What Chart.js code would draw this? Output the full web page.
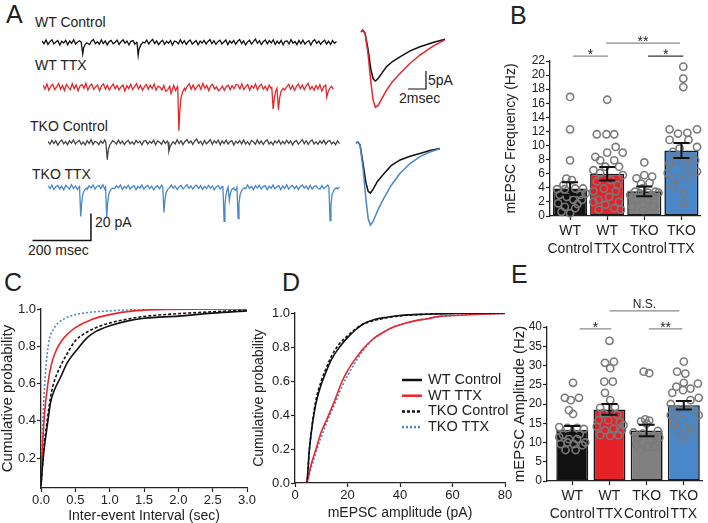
<!DOCTYPE html>
<html>
<head>
<meta charset="utf-8">
<script src="https://cdn.jsdelivr.net/npm/chart.js@4.4.1/dist/chart.umd.min.js"></script>
<style>
  body { margin: 0; background: #fff; width: 708px; height: 523px; position: relative; overflow: hidden;
         font-family: 'Liberation Sans', Arial, sans-serif; color: #222; }
  canvas { position: absolute; }
  .t { position: absolute; white-space: nowrap; line-height: 1; }
  .p { font-size: 25px; }
  .l { font-size: 14px; }
</style>
</head>
<body>
<div class="t p" style="left:6px;top:2px">A</div>
<div class="t p" style="left:510px;top:3px">B</div>
<div class="t p" style="left:4px;top:270px">C</div>
<div class="t p" style="left:282px;top:270px">D</div>
<div class="t p" style="left:511px;top:262px">E</div>

<div class="t l" style="left:35px;top:15px">WT Control</div>
<div class="t l" style="left:35px;top:58px">WT TTX</div>
<div class="t l" style="left:30px;top:119px">TKO Control</div>
<div class="t l" style="left:32px;top:167px">TKO TTX</div>
<div class="t l" style="left:95px;top:215px">20 pA</div>
<div class="t l" style="left:28px;top:243px">200 msec</div>
<div class="t l" style="left:428px;top:73px">5pA</div>
<div class="t l" style="left:399px;top:91px">2msec</div>

<script>
// ---------- A: example traces (pA), noise sampled every ~6.7 ms, events as [ms, pA] ----------
const traceStep = 6.7;
const wtCtrlNoise = [1.2,-0.9,1.8,-1.4,0.6,2.0,-1.1,0.3,1.5,-1.8,0.9,-0.4,1.7,-1.6,1.1,-0.7,2.1,-1.2,0.4,1.3,
  -1.9,0.8,1.6,-0.6,-1.5,1.0,2.2,-0.9,0.5,-1.3,1.9,-0.8,1.2,-1.7,0.7,1.5,-1.0,0.2,1.8,-1.4,
  0.6,2.0,-0.5,1.1,-1.8,0.9,1.4,-1.2,0.3,1.6,-1.5,1.0,-0.3,1.9,-1.1,0.8,2.3,-0.7,1.2,-1.6,
  0.4,1.7,-1.3,0.9,-0.6,1.5,-1.9,1.1,0.5,-1.0,2.0,-0.8,1.3,-1.5,0.7,1.8,-1.2,0.2,1.4,-1.7,
  1.0,-0.4,1.6,-1.1,0.8,2.1,-0.9,1.3,-1.4,0.6,1.7,-1.0,0.4,1.9,-1.6,1.2,-0.5,1.5,-1.3,0.9,
  2.2,-0.7,1.1,-1.8,0.5,1.6,-1.2,0.8,2.5,-0.6,1.3,-1.5,0.7,1.9,-1.0,1.4,-0.3,2.0,-1.4,1.0,
  -0.8,1.6,-1.7,0.9,1.2,-1.1,2.1,-0.5,0.7,-1.6,1.5,-0.9,1.8,-1.2,0.4,1.3,-1.8,1.0,2.0,-0.7,
  1.1,-1.4,0.6,1.7,-1.1,0.9,-1.5,1.4,-0.6,0.8];
const wtCtrlEvents = [
  [[133,0.2],[138,-8.5],[141,-4],[146,-1.5],[152,-0.3]],
  [[322,0.4],[326,-9.5],[329,-5],[335,-1.8],[342,0.2]]];
const wtTtxNoise = [1.8,-1.2,2.6,-2.0,0.9,2.4,-1.6,0.5,3.0,-1.3,1.5,-2.2,2.3,0.3,-1.6,2.8,-0.8,1.9,-2.4,1.2,
  2.2,-0.6,3.1,-1.8,1.0,2.6,-1.4,0.6,2.0,-2.3,1.1,2.7,-1.2,1.7,-1.9,0.7,2.5,-1.0,1.5,-1.7,
  0.4,1.9,-2.6,1.3,-0.9,2.4,-1.5,0.8,2.9,-1.1,1.6,-2.0,0.5,2.2,-1.3,1.8,-0.7,2.6,-1.9,1.0,
  0.2,-1.8,1.4,-2.9,-1.6,0.9,-0.5,1.7,-2.2,0.8,2.5,-0.8,1.6,-2.1,1.1,2.8,-1.3,1.9,-1.7,0.6,
  2.1,-1.4,3.0,-0.6,1.5,-2.3,1.2,2.4,-1.1,0.4,-2.4,-1.2,1.0,-2.0,0.8,1.7,-1.6,1.4,-0.9,2.3,
  1.9,-1.0,2.7,-1.5,0.7,2.2,-2.0,1.3,-0.4,2.6,-1.7,1.1,2.4,-1.2,0.9,-2.1,1.8,-0.7,2.5,-1.5,
  1.0,2.9,-1.1,1.6,-1.8,0.5,2.3,-1.3,1.4,-2.2,0.8,2.6,-0.9,1.9,-1.6,1.2,3.1,-1.4,0.7,-2.0,
  1.5,-1.1,2.2,-2.5,0.6,1.8,-3.0,-2.2,0.9,-1.4];
const wtTtxEvents = [
  [[436,0.4],[440,-4.5],[445,-1.5]],
  [[463,0.2],[467,-32],[470,-18],[474,-8],[480,-3],[487,-0.5]],
  [[786,0.5],[791,-16],[795,-8],[799,-3],[804,-0.5],[809,-16.5],[813,-8],[818,-3],[825,-0.5]],
  [[972,0.2],[975,-7],[980,-3],[986,-0.5]]];
const tkoCtrlNoise = [0.9,-1.3,1.6,-0.8,1.2,-1.9,0.5,1.8,-1.0,0.7,-1.6,1.3,-0.5,2.0,-1.2,0.6,1.5,-1.4,0.3,-1.8,
  1.4,-0.7,2.1,-1.5,0.9,0.2,-1.6,1.1,-0.6,1.9,-1.1,0.8,-1.7,1.3,0.4,-1.2,1.7,-0.8,1.0,-1.5,
  0.6,1.6,-1.0,0.5,-1.4,1.5,-0.3,0.9,-1.7,1.2,1.4,-1.1,0.8,-0.5,1.8,-1.6,1.1,0.3,-1.3,1.5,
  -0.6,1.1,-1.9,0.9,0.5,-1.1,2.0,-0.8,1.3,-1.6,0.8,2.2,-0.5,1.2,-1.4,1.1,2.5,-0.6,0.9,-1.7,
  1.6,-1.0,0.6,2.1,-1.3,1.4,-0.5,1.8,-1.6,1.1,-0.8,1.7,-1.1,0.6,1.3,-1.9,0.9,-0.5,1.4,-1.0,
  1.9,-1.2,0.7,-1.6,1.5,0.4,-1.3,1.8,-0.9,1.1,-1.5,0.8,2.0,-1.1,0.5,-1.7,1.2,-0.4,1.6,-1.3,
  0.9,-1.0,1.7,-0.6,1.1,-1.8,0.7,1.4,-1.2,0.5,2.1,-0.9,1.3,-1.5,0.8,1.9,-1.1,0.6,-1.4,1.2,
  -0.7,1.6,-1.2,0.9,1.5,-1.0,0.4,-1.6,1.3,-0.8];
const tkoCtrlEvents = [
  [[198,0.3],[203,-12.8],[206,-6],[211,-2],[217,-0.3]],
  [[411,0.2],[414,-6.4],[418,-3],[424,-0.8]]];
const tkoTtxNoise = [1.3,-0.8,1.8,-1.4,0.6,1.5,-1.1,0.9,-1.7,1.4,0.3,-1.2,2.0,-0.6,1.1,-1.5,0.8,1.7,-0.9,0.5,
  -1.4,1.2,-0.4,1.8,-1.1,0.8,1.4,-0.8,2.1,-1.2,0.9,-1.8,0.6,1.5,-0.9,1.2,-0.3,2.0,-1.4,0.8,
  -0.6,1.7,-1.1,0.5,1.4,-1.5,0.9,-0.5,1.8,-1.2,0.6,1.5,-0.8,1.1,-1.7,0.3,1.2,-0.9,1.7,-0.6,
  1.4,-1.4,0.8,1.8,-0.5,1.1,-1.5,0.6,1.5,-1.1,0.5,2.2,-0.6,1.2,-1.2,0.9,1.7,-0.8,1.4,-1.5,
  0.8,-0.9,1.5,-0.5,1.1,-1.8,0.6,1.4,-1.2,0.9,-0.6,1.5,-1.1,0.3,1.2,-1.4,-2.0,0.9,-0.8,0.5,
  1.6,-1.0,1.9,-0.7,0.8,-1.6,1.3,-0.4,1.7,-1.2,0.7,1.4,-1.5,1.0,-0.6,1.8,-1.0,0.5,1.3,-1.7,
  1.1,-0.8,2.0,-1.3,0.6,1.5,-0.9,1.2,-1.6,0.8,1.9,-0.5,1.0,-1.4,1.6,-1.1,0.7,1.3,-0.6,-1.2,
  1.4,-0.9,0.6,1.8,-1.3,0.9,-0.7,1.5,-1.0,0.4];
const tkoTtxEvents = [
  [[108,0.3],[112,-21.5],[115,-12],[119,-5],[126,-1.5],[133,-0.3]],
  [[197,0.2],[201,-22],[204,-12],[208,-5],[215,-1.5],[222,-0.3]],
  [[393,0.4],[397,-18.5],[400,-10],[404,-4],[411,-1],[417,0]],
  [[599,0.3],[603,-25],[606,-13],[609,-6],[613,-2],[617,0.3],[621,-9.6],[624,-5],[629,-1.5],[636,-0.2]],
  [[647,0.3],[651,-23],[654,-12],[658,-5],[665,-1.5],[672,-0.2]],
  [[962,0.2],[966,-24.5],[969,-13],[973,-5],[980,-1.5],[987,-0.3]]];

// averaged mEPSCs (ms, pA)
const avgTopTime = [0,0.2,0.45,0.8,1.1,1.35,1.6,1.9,2.3,2.85,3.5,4.33,5.4,6.55,8,9.33];
const avgTopWtCtrl = [0,0.5,-0.3,-5,-10.5,-13,-13.6,-12.9,-11.5,-9.6,-8.2,-6.9,-5.3,-4.1,-2.9,-2.0];
const avgTopWtTtx = [0,0.5,-0.3,-6.5,-14,-19,-20.9,-20.4,-18.6,-16.1,-13.8,-11.5,-8.8,-6.4,-3.9,-2.2];
const avgBotTime = [0,0.2,0.45,0.8,1.1,1.35,1.6,1.9,2.4,3.0,3.9,4.9,6.0,7.1,8.2,9.33];
const avgBotTkoCtrl = [0,0.3,-0.5,-6,-11,-13.4,-13.9,-12.8,-10.6,-8.8,-6.3,-4.7,-3.7,-2.9,-2.1,-1.5];
const avgBotTkoTtx = [0,0.3,-0.5,-7.5,-15.5,-21,-22.8,-21.8,-18.8,-15.8,-11.8,-8.4,-5.7,-3.8,-2.5,-1.6];

// ---------- B / E: groups, means, SEM, single cells [x offset, value] ----------
const groupLabels = [['WT', 'Control'], ['WT', 'TTX'], ['TKO', 'Control'], ['TKO', 'TTX']];
const groupColors = ['#111111', '#e42228', '#808080', '#4a87c9'];

const freqMean = [3.9, 6.0, 3.5, 9.3];
const freqSem = [0.9, 0.95, 0.7, 1.05];
const freqWtCtrl = [[0,16.9],[0,12.3],[0,7.9],[-0.1,5.3],[0.05,5.1],[-0.35,3.8],[-0.14,3.8],[0.14,3.9],[0.35,3.9],
  [-0.28,3.0],[0.28,3.0],[-0.09,2.7],[0.09,2.3],[-0.32,1.8],[0.32,2.3],[-0.14,1.3],[0.14,1.1],[0,0.4],
  [-0.23,0.6],[0.2,1.7],[-0.18,4.4],[0.42,3.2]];
const freqWtTtx = [[0,16.5],[-0.28,11.6],[-0.02,11.6],[0.19,11.6],[0.23,9.8],[0.42,9.0],[0,9.0],[-0.32,8.4],
  [-0.19,7.9],[0.19,7.9],[-0.05,7.0],[0.32,7.0],[-0.37,6.5],[-0.19,6.1],[0.42,5.8],[0.09,5.1],[-0.28,4.9],
  [0.28,4.4],[-0.09,3.9],[-0.37,3.5],[0.23,3.5],[0.05,2.7],[-0.23,2.3],[0.32,2.0],[-0.37,2.0],[-0.05,1.6],
  [0.19,1.1],[-0.23,0.9],[0.37,0.9]];
const freqTkoCtrl = [[0,7.6],[-0.21,5.35],[0,5.8],[0.21,5.6],[-0.09,4.6],[0.14,4.7],[-0.25,3.45],[0.3,3.45],
  [-0.05,3.9],[-0.18,2.3],[0.23,1.3],[0.09,2.3],[-0.32,1.3],[-0.03,0.85],[0.38,3.3],[-0.38,3.0],[0.1,3.3],
  [-0.12,3.2],[0.2,2.9]];
const freqTkoTtx = [[0.05,21.2],[0.05,19.5],[0.05,18.3],[-0.32,12.3],[-0.09,11.7],[0.16,11.8],[0.42,12.3],
  [-0.32,10.8],[0.19,10.8],[-0.23,9.1],[0.19,8.4],[0.42,9.8],[-0.32,7.5],[-0.14,7.9],[0.14,7.0],[0.37,7.9],
  [-0.37,6.1],[-0.09,5.3],[0.19,5.6],[0.42,6.3],[-0.23,4.2],[0.05,3.2],[0.05,1.8],[-0.05,9.6]];

const ampMean = [13.3, 18.6, 13.1, 19.7];
const ampSem = [1.0, 1.4, 1.5, 1.1];
const ampWtCtrl = [[0.02,25.5],[-0.2,21.6],[-0.04,21.0],[0.18,21.6],[-0.09,18.4],[0.02,17.4],[-0.35,14.0],
  [-0.13,13.8],[0.13,13.8],[0.31,13.5],[-0.35,11.4],[-0.09,10.9],[0.13,10.9],[0.35,10.0],[-0.31,9.6],
  [-0.13,10.0],[0.04,9.6],[0.27,9.3],[-0.18,8.05],[0.09,8.05],[-0.25,12.0],[0.2,12.2]];
const ampWtTtx = [[0,36.4],[-0.12,30.7],[0.12,31.0],[0.02,29.3],[-0.14,25.8],[0.09,25.8],[-0.12,22.9],[0.02,21.0],
  [-0.25,19.0],[0.15,19.2],[-0.16,17.6],[0.21,17.2],[-0.29,15.8],[-0.03,15.8],[0.28,15.3],[-0.34,14.1],
  [-0.12,13.2],[0.11,13.6],[0.33,13.2],[-0.25,11.9],[0.02,11.7],[0.24,11.9],[0.38,14.5]];
const ampTkoCtrl = [[-0.08,28.4],[0.07,28.0],[-0.04,16.0],[-0.15,15.5],[0.07,15.7],[0,14.9],[-0.24,11.3],
  [-0.11,12.3],[0.2,11.8],[0.34,11.3],[0.09,10.6],[-0.15,8.05],[0.03,9.0],[0.2,8.9],[-0.28,9.5],
  [-0.35,12.6],[0.3,13.0]];
const ampTkoTtx = [[0,31.0],[-0.18,28.4],[0.04,27.9],[0,25.5],[-0.2,24.5],[0.18,24.0],[0.38,25.3],[-0.02,23.6],
  [0.18,21.0],[-0.35,17.1],[-0.18,18.4],[0.22,18.4],[0.4,17.1],[-0.04,15.8],[-0.27,15.1],[0.18,14.0],
  [-0.18,13.2],[0.13,12.6],[-0.04,10.6],[-0.31,22.9],[0.4,21.6],[-0.35,20.0]];

// ---------- C / D: cumulative distributions ----------
const ieiWtCtrlX = [0,0.02,0.04,0.09,0.14,0.2,0.28,0.38,0.52,0.67,0.8,1.0,1.25,1.5,2.0,2.5,3.0];
const ieiWtCtrlY = [0.05,0.15,0.23,0.37,0.5,0.57,0.63,0.71,0.78,0.845,0.88,0.91,0.935,0.95,0.962,0.978,0.99];
const ieiWtTtxX = [0,0.02,0.05,0.1,0.15,0.2,0.3,0.4,0.5,0.75,1.0,1.35,1.8,3.0];
const ieiWtTtxY = [0.05,0.25,0.43,0.6,0.7,0.76,0.83,0.87,0.9,0.945,0.97,0.99,0.998,1.0];
const ieiTkoCtrlX = [0,0.02,0.04,0.09,0.14,0.2,0.28,0.38,0.5,0.62,0.8,1.0,1.25,1.5,2.0,2.5,3.0];
const ieiTkoCtrlY = [0.05,0.15,0.25,0.4,0.53,0.62,0.69,0.76,0.83,0.865,0.9,0.925,0.945,0.96,0.975,0.985,0.995];
const ieiTkoTtxX = [0,0.02,0.04,0.06,0.09,0.13,0.18,0.25,0.38,0.6,1.0,1.5,3.0];
const ieiTkoTtxY = [0.05,0.3,0.5,0.63,0.76,0.85,0.89,0.925,0.955,0.977,0.99,0.997,1.0];

const ampCdfCtrlX = [0,4.4,5.5,6.5,8,10,12,14,17,20,23,26,30,35,40,50,60,80];
const ampCdfWtCtrlY = [0,0,0.2,0.33,0.47,0.58,0.66,0.73,0.8,0.855,0.9,0.935,0.96,0.975,0.985,0.993,0.998,1.0];
const ampCdfTkoCtrlY = [0,0,0.2,0.34,0.49,0.6,0.68,0.75,0.82,0.865,0.905,0.935,0.955,0.972,0.983,0.993,0.998,1.0];
const ampCdfTtxX = [0,4.4,6,8,10,12,15,18,20,23,26,30,34,38,42,46,50,55,60,70,80];
const ampCdfWtTtxY = [0,0,0.1,0.2,0.3,0.37,0.48,0.6,0.66,0.73,0.79,0.85,0.89,0.92,0.94,0.955,0.965,0.98,0.985,0.993,0.997];
const ampCdfTkoTtxY = [0,0,0.08,0.18,0.27,0.35,0.46,0.57,0.63,0.71,0.78,0.85,0.89,0.92,0.94,0.955,0.965,0.98,0.985,0.993,0.997];

// ---------- setup ----------
const FONT = "'Liberation Sans', Arial, sans-serif";
Chart.defaults.font.family = FONT;
Chart.defaults.color = '#222';
Chart.defaults.animation = false;
Chart.defaults.plugins.legend.display = false;
Chart.defaults.plugins.tooltip.enabled = false;

function place(left, top, w, h) {
  const c = document.createElement('canvas');
  c.width = w; c.height = h;
  c.style.left = left + 'px'; c.style.top = top + 'px';
  c.style.width = w + 'px'; c.style.height = h + 'px';
  document.body.appendChild(c);
  return c.getContext('2d');
}

function xy(xs, ys) { return xs.map((x, i) => ({ x: x, y: ys[i] })); }

function trace(noise, events, color) {
  const pts = noise.map((v, i) => ({ x: i * traceStep, y: v }))
    .filter(p => !events.some(g => p.x >= g[0][0] && p.x <= g[g.length - 1][0]));
  events.forEach(g => g.forEach(e => pts.push({ x: e[0], y: e[1] })));
  pts.sort((a, b) => a.x - b.x);
  return { data: pts, borderColor: color, borderWidth: 1.3 };
}

function plainChart(ctx, xr, yr, datasets, plugins) {
  return new Chart(ctx, {
    type: 'line',
    data: { datasets: datasets },
    options: {
      responsive: false,
      layout: { padding: 0 },
      scales: {
        x: { type: 'linear', display: false, min: xr[0], max: xr[1] },
        y: { type: 'linear', display: false, min: yr[0], max: yr[1] }
      },
      elements: { point: { radius: 0 }, line: { tension: 0 } }
    },
    plugins: plugins || []
  });
}

// A traces
plainChart(place(42, 29, 295, 54), [0, 1000], [-30, 10], [trace(wtCtrlNoise, wtCtrlEvents, '#111')]);
plainChart(place(43, 74, 291, 60), [0, 1000], [-34.4, 10], [trace(wtTtxNoise, wtTtxEvents, '#e8262c')]);
plainChart(place(48, 129, 292, 54), [0, 1000], [-30, 10], [trace(tkoCtrlNoise, tkoCtrlEvents, '#454545')]);

const scaleBarA = {
  id: 'scaleBarA',
  afterDraw(chart) {
    const { ctx, scales: { x, y } } = chart;
    ctx.save();
    ctx.strokeStyle = '#111'; ctx.lineWidth = 1.5;
    ctx.beginPath();
    ctx.moveTo(x.getPixelForValue(-53), y.getPixelForValue(-39.3));
    ctx.lineTo(x.getPixelForValue(147), y.getPixelForValue(-39.3));
    ctx.lineTo(x.getPixelForValue(147), y.getPixelForValue(-19.3));
    ctx.stroke();
    ctx.restore();
  }
};
plainChart(place(20, 174, 320, 72), [-96, 1000], [-43.3, 10], [trace(tkoTtxNoise, tkoTtxEvents, '#4a87c9')], [scaleBarA]);

const scaleBarAvg = {
  id: 'scaleBarAvg',
  afterDraw(chart) {
    const { ctx, scales: { x, y } } = chart;
    ctx.save();
    ctx.strokeStyle = '#111'; ctx.lineWidth = 1.2;
    ctx.beginPath();
    ctx.moveTo(x.getPixelForValue(5.22), y.getPixelForValue(-15.83));
    ctx.lineTo(x.getPixelForValue(7.22), y.getPixelForValue(-15.83));
    ctx.lineTo(x.getPixelForValue(7.22), y.getPixelForValue(-10.83));
    ctx.stroke();
    ctx.restore();
  }
};
plainChart(place(352, 22, 100, 95), [-1, 10.11], [-23.61, 2.78], [
  { data: xy(avgTopTime, avgTopWtTtx), borderColor: '#e8262c', borderWidth: 1.5 },
  { data: xy(avgTopTime, avgTopWtCtrl), borderColor: '#111', borderWidth: 1.5 }
], [scaleBarAvg]);
plainChart(place(347, 133, 100, 100), [-1, 10.11], [-25, 2.78], [
  { data: xy(avgBotTime, avgBotTkoTtx), borderColor: '#4a87c9', borderWidth: 1.5 },
  { data: xy(avgBotTime, avgBotTkoCtrl), borderColor: '#111', borderWidth: 1.5 }
]);

// ---------- bar panels ----------
const barExtras = {
  id: 'barExtras',
  afterDatasetsDraw(chart, args, o) {
    const { ctx, scales: { x, y } } = chart;
    ctx.save();
    ctx.strokeStyle = '#111'; ctx.lineWidth = 2;
    o.means.forEach((m, i) => {
      const px = x.getPixelForValue(i);
      const t = y.getPixelForValue(m + o.sems[i]), b = y.getPixelForValue(m - o.sems[i]);
      ctx.beginPath();
      ctx.moveTo(px, t); ctx.lineTo(px, b);
      ctx.moveTo(px - 8, t); ctx.lineTo(px + 8, t);
      ctx.moveTo(px - 8, b); ctx.lineTo(px + 8, b);
      ctx.stroke();
    });
    ctx.lineWidth = 1.3;
    ctx.textAlign = 'center';
    o.sig.forEach(s => {
      const py = y.getPixelForValue(s.at);
      ctx.strokeStyle = s.color; ctx.fillStyle = '#222';
      ctx.beginPath();
      ctx.moveTo(x.getPixelForValue(s.from), py); ctx.lineTo(x.getPixelForValue(s.to), py);
      ctx.stroke();
      const mid = (x.getPixelForValue(s.from) + x.getPixelForValue(s.to)) / 2;
      if (s.text === 'N.S.') {
        ctx.font = '12px ' + FONT; ctx.textBaseline = 'alphabetic';
        ctx.fillText(s.text, mid, py - 3);
      } else {
        ctx.font = '14px ' + FONT; ctx.textBaseline = 'alphabetic';
        ctx.fillText(s.text, mid, py + 3);
      }
    });
    ctx.restore();
  }
};

function barPanel(cfg) {
  const dots = [];
  cfg.dots.forEach((grp, i) => grp.forEach(d => dots.push({ x: i + d[0], y: d[1] })));
  return new Chart(place(cfg.left, cfg.top, cfg.w, cfg.h), {
    type: 'bar',
    data: {
      datasets: [
        { type: 'scatter', data: dots, order: 0, clip: false,
          pointRadius: 3.6, pointBorderWidth: 1.6, pointBorderColor: '#7a7a7a',
          pointBackgroundColor: 'rgba(0,0,0,0)' },
        { type: 'bar', data: cfg.means.map((m, i) => ({ x: i, y: m })), order: 1,
          backgroundColor: groupColors, borderColor: '#1a1a1a', borderWidth: 1.6, borderSkipped: false,
          barPercentage: cfg.barPct, categoryPercentage: 1 }
      ]
    },
    options: {
      responsive: false,
      layout: { padding: cfg.pad },
      scales: {
        x: {
          type: 'linear', min: cfg.xMin, max: 3.5, offset: false,
          afterBuildTicks: s => { s.ticks = [0, 1, 2, 3].map(v => ({ value: v })); },
          afterFit: s => { s.height = cfg.xH; s.paddingLeft = 0; s.paddingRight = 0; },
          border: { display: true, color: '#222', width: 1.3 },
          grid: { offset: false, drawOnChartArea: false, tickLength: 4, tickColor: '#222', tickWidth: 1.2 },
          ticks: { font: { size: 14, lineHeight: 1.3 }, padding: 2, maxRotation: 0, autoSkip: false,
                   callback: v => groupLabels[v] }
        },
        y: {
          min: 0, max: cfg.yMax,
          afterFit: s => { s.width = cfg.yW; s.paddingTop = 0; s.paddingBottom = 0; },
          border: { display: true, color: '#222', width: 1.3 },
          grid: { drawOnChartArea: false, tickLength: 4, tickColor: '#222', tickWidth: 1.2 },
          ticks: { stepSize: cfg.yStep, autoSkip: false, font: { size: 12 }, padding: 1 },
          title: { display: true, text: cfg.title, font: { size: cfg.titleSize, lineHeight: 1 },
                   padding: { top: cfg.titlePad, bottom: 0 } }
        }
      },
      plugins: { barExtras: { means: cfg.means, sems: cfg.sems, sig: cfg.sig } }
    },
    plugins: [barExtras]
  });
}

barPanel({
  left: 500, top: 0, w: 208, h: 270, pad: { left: 0, top: 61, right: 8, bottom: 0 },
  yW: 50, xH: 54, xMin: -0.54, yMax: 22, yStep: 2, barPct: 0.92,
  title: 'mEPSC Frequency (Hz)', titleSize: 14, titlePad: 4,
  means: freqMean, sems: freqSem, dots: [freqWtCtrl, freqWtTtx, freqTkoCtrl, freqTkoTtx],
  sig: [
    { from: 0.08, to: 1.02, at: 22.7, text: '*', color: '#8a8a8a' },
    { from: 0.97, to: 2.96, at: 24.55, text: '**', color: '#8a8a8a' },
    { from: 2.1, to: 3.05, at: 22.7, text: '*', color: '#333' }
  ]
});

barPanel({
  left: 500, top: 260, w: 208, h: 263, pad: { left: 0, top: 67, right: 4, bottom: 0 },
  yW: 47, xH: 42, xMin: -0.68, yMax: 40, yStep: 5, barPct: 0.86,
  title: 'mEPSC Amplitude (Hz)', titleSize: 15, titlePad: 12,
  means: ampMean, sems: ampSem, dots: [ampWtCtrl, ampWtTtx, ampTkoCtrl, ampTkoTtx],
  sig: [
    { from: 0.2, to: 1.05, at: 39.5, text: '*', color: '#8a8a8a' },
    { from: 2.06, to: 2.96, at: 39.5, text: '**', color: '#8a8a8a' },
    { from: 1.0, to: 2.88, at: 44.2, text: 'N.S.', color: '#8a8a8a' }
  ]
});

// ---------- CDF panels ----------
function cdfPanel(cfg) {
  return new Chart(place(cfg.left, cfg.top, cfg.w, cfg.h), {
    type: 'line',
    data: { datasets: cfg.datasets },
    options: {
      responsive: false,
      layout: { padding: cfg.pad },
      elements: { point: { radius: 0 }, line: { borderWidth: 1.6, cubicInterpolationMode: 'monotone' } },
      scales: {
        x: {
          type: 'linear', min: cfg.xr[0], max: cfg.xr[1],
          afterFit: s => { s.height = cfg.xH; s.paddingLeft = 0; s.paddingRight = 0; },
          border: { display: true, color: '#222', width: 1.3 },
          grid: { drawOnChartArea: false, tickLength: 4, tickColor: '#222', tickWidth: 1.2 },
          ticks: { stepSize: cfg.xStep, font: { size: 13 }, padding: 1, maxRotation: 0,
                   callback: cfg.xFmt },
          title: { display: true, text: cfg.xTitle, font: { size: 14, lineHeight: 1 },
                   padding: { top: 0, bottom: cfg.xTitlePad } }
        },
        y: {
          min: cfg.yMin, max: 1,
          afterBuildTicks: s => { s.ticks = cfg.yTicks.map(v => ({ value: v })); },
          afterFit: s => { s.width = cfg.yW; s.paddingTop = 0; s.paddingBottom = 0; },
          border: { display: true, color: '#222', width: 1.3 },
          grid: { drawOnChartArea: false, tickLength: 4, tickColor: '#222', tickWidth: 1.2 },
          ticks: { font: { size: 13 }, padding: 1, callback: v => v.toFixed(1) },
          title: { display: true, text: 'Cumulative probability', font: { size: cfg.yTitleSize, lineHeight: 1 },
                   padding: { top: cfg.yTitlePad, bottom: 0 } }
        }
      }
    },
    plugins: cfg.plugins || []
  });
}

cdfPanel({
  left: 0, top: 270, w: 262, h: 253, pad: { left: 0, top: 39, right: 15, bottom: 0 },
  yW: 41, xH: 35, xr: [0, 3], xStep: 0.5, xFmt: v => v.toFixed(1), yMin: 0.04,
  yTicks: [0.2, 0.4, 0.6, 0.8, 1.0], xTitle: 'Inter-event Interval (sec)', xTitlePad: 0,
  yTitleSize: 15, yTitlePad: 0,
  datasets: [
    { label: 'WT Control', data: xy(ieiWtCtrlX, ieiWtCtrlY), borderColor: '#111' },
    { label: 'WT TTX', data: xy(ieiWtTtxX, ieiWtTtxY), borderColor: '#e8262c' },
    { label: 'TKO Control', data: xy(ieiTkoCtrlX, ieiTkoCtrlY), borderColor: '#111', borderDash: [3, 2] },
    { label: 'TKO TTX', data: xy(ieiTkoTtxX, ieiTkoTtxY), borderColor: '#4a87c9', borderDash: [2, 2] }
  ]
});

const cdfLegend = {
  id: 'cdfLegend',
  afterDraw(chart) {
    const { ctx, chartArea: a } = chart;
    ctx.save();
    ctx.font = '14.5px ' + FONT;
    ctx.fillStyle = '#222'; ctx.textBaseline = 'middle'; ctx.textAlign = 'left';
    chart.data.datasets.forEach((ds, i) => {
      const y = a.top + 67 + i * 15.7;
      ctx.strokeStyle = ds.borderColor; ctx.lineWidth = 2.5;
      ctx.setLineDash(ds.borderDash || []);
      ctx.beginPath(); ctx.moveTo(a.left + 107, y); ctx.lineTo(a.left + 127, y); ctx.stroke();
      ctx.fillText(ds.label, a.left + 133, y);
    });
    ctx.restore();
  }
};

cdfPanel({
  left: 250, top: 270, w: 262, h: 253, pad: { left: 0, top: 43, right: 7, bottom: 0 },
  yW: 45, xH: 40, xr: [0, 80], xStep: 20, xFmt: v => v, yMin: 0,
  yTicks: [0, 0.2, 0.4, 0.6, 0.8, 1.0], xTitle: 'mEPSC amplitude (pA)', xTitlePad: 3,
  yTitleSize: 14, yTitlePad: 2,
  plugins: [cdfLegend],
  datasets: [
    { label: 'WT Control', data: xy(ampCdfCtrlX, ampCdfWtCtrlY), borderColor: '#111' },
    { label: 'WT TTX', data: xy(ampCdfTtxX, ampCdfWtTtxY), borderColor: '#e8262c' },
    { label: 'TKO Control', data: xy(ampCdfCtrlX, ampCdfTkoCtrlY), borderColor: '#111', borderDash: [3, 2] },
    { label: 'TKO TTX', data: xy(ampCdfTtxX, ampCdfTkoTtxY), borderColor: '#4a87c9', borderDash: [2, 2] }
  ]
});
</script>
</body>
</html>
